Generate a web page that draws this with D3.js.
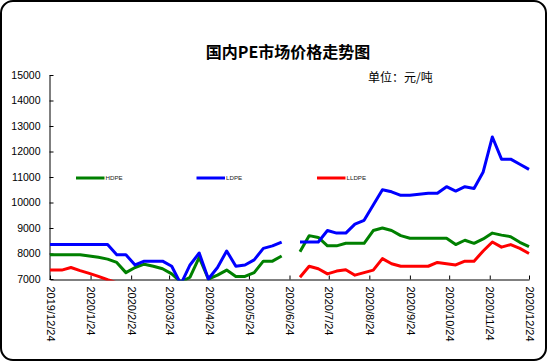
<!DOCTYPE html>
<html><head><meta charset="utf-8">
<script src="https://cdn.jsdelivr.net/npm/d3@7"></script>
<style>body{margin:0;background:#fff}</style>
</head><body><svg id="c" width="550" height="364"></svg>
<script>
const dates = ["2019-12-24","2020-01-02","2020-01-09","2020-01-16","2020-01-23","2020-01-30","2020-02-06","2020-02-13","2020-02-20","2020-02-27","2020-03-05","2020-03-12","2020-03-19","2020-03-26","2020-04-02","2020-04-09","2020-04-16","2020-04-23","2020-04-30","2020-05-07","2020-05-14","2020-05-21","2020-05-28","2020-06-04","2020-06-11","2020-06-18","2020-06-25","2020-07-02","2020-07-09","2020-07-16","2020-07-23","2020-07-30","2020-08-06","2020-08-13","2020-08-20","2020-08-27","2020-09-03","2020-09-10","2020-09-17","2020-09-24","2020-10-01","2020-10-08","2020-10-15","2020-10-22","2020-10-29","2020-11-05","2020-11-12","2020-11-19","2020-11-26","2020-12-03","2020-12-10","2020-12-17","2020-12-24"];
const hdpe = [7950,7950,7950,7950,7900,7850,7780,7650,7250,7450,7580,7500,7400,7200,6880,7070,7850,7000,7150,7350,7100,7100,7250,7700,7700,7900,null,8070,8700,8630,8300,8300,8400,8400,8400,8900,9000,8900,8700,8600,8600,8600,8600,8600,8350,8520,8400,8570,8800,8720,8660,8440,8270];
const ldpe = [8350,8350,8350,8350,8350,8350,8350,7950,7950,7550,7700,7700,7700,7500,6800,7550,8020,7000,7450,8100,7500,7550,7750,8200,8300,8450,null,8450,8450,8450,8900,8800,8800,9150,9300,9900,10500,10420,10280,10280,10320,10360,10360,10620,10450,10620,10550,11200,12570,11700,11700,11500,11300];
const lldpe = [7350,7350,7450,7330,7220,7100,6970,6850,6800,6750,6700,6600,6500,6450,6300,6350,6600,6500,6600,6700,6650,6650,6700,6750,6800,6850,null,7070,7500,7400,7200,7310,7360,7150,7250,7350,7800,7600,7500,7500,7500,7500,7650,7600,7550,7700,7700,8100,8450,8250,8350,8200,8000];
const tickLabels = ["2019/12/24","2020/1/24","2020/2/24","2020/3/24","2020/4/24","2020/5/24","2020/6/24","2020/7/24","2020/8/24","2020/9/24","2020/10/24","2020/11/24","2020/12/24"];
const yTicks = [7000,8000,9000,10000,11000,12000,13000,14000,15000];
const seriesNames = ["HDPE","LDPE","LLDPE"];
const seriesColors = ["#008000","#0000FF","#FF0000"];
const seriesData = [hdpe, ldpe, lldpe];

const svg = d3.select("#c");
svg.append("rect").attr("x",1).attr("y",1).attr("width",545).attr("height",359).attr("rx",12)
  .attr("fill","#fff").attr("stroke","#000").attr("stroke-width",2);

const parse = d3.timeParse("%Y-%m-%d");
const parseT = d3.timeParse("%Y/%m/%d");
const tickDates = tickLabels.map(parseT);
const x = d3.scaleTime().domain([tickDates[0], tickDates[tickDates.length-1]]).range([50,529]);
const y = d3.scaleLinear().domain([7000,15000]).range([279,75]);

svg.append("text").attr("x",288).attr("y",57.5).attr("text-anchor","middle")
  .attr("font-family","'Noto Sans CJK SC'").attr("font-weight","bold").attr("font-size",16)
  .text("国内PE市场价格走势图");
svg.append("text").attr("x",368).attr("y",82).attr("font-family","'Noto Sans CJK SC'")
  .attr("font-size",12).text("单位：元/吨");

// axes
const yAxis = svg.append("g").attr("transform","translate(49.5,0)")
  .call(d3.axisLeft(y).tickValues(yTicks).tickSize(-4).tickSizeOuter(0).tickPadding(9).tickFormat(d3.format("d")));
yAxis.selectAll("text").attr("font-family","'Liberation Sans'").attr("font-size",10.5).attr("fill","#000");
const xAxis = svg.append("g").attr("transform","translate(0,279.5)")
  .call(d3.axisBottom(x).tickValues(tickDates).tickSize(-4).tickSizeOuter(0).tickFormat((d,i)=>tickLabels[i]));
xAxis.selectAll("text").attr("font-family","'Liberation Sans'").attr("font-size",11).attr("fill","#000")
  .attr("transform","rotate(90)").attr("x",7).attr("y",0).attr("dy","0.35em").style("text-anchor","start");
svg.selectAll(".domain, .tick line").attr("stroke","#000");

// clip
svg.append("clipPath").attr("id","pc").append("rect").attr("x",47).attr("y",70).attr("width",486).attr("height",210.5);
const line = d3.line().defined(d=>d[1]!=null).x(d=>x(parse(d[0]))).y(d=>y(d[1]));
const g = svg.append("g").attr("clip-path","url(#pc)");
seriesData.forEach((s,i)=>{
  g.append("path").datum(dates.map((d,j)=>[d,s[j]])).attr("d",line)
    .attr("fill","none").attr("stroke",seriesColors[i]).attr("stroke-width",3)
    .attr("stroke-linejoin","round");
});

// legend
const lg = svg.append("g");
seriesNames.forEach((n,i)=>{
  const lx = 76 + i*120.5;
  lg.append("line").attr("x1",lx).attr("x2",lx+28.5).attr("y1",178).attr("y2",178)
    .attr("stroke",seriesColors[i]).attr("stroke-width",3);
  lg.append("text").attr("x",lx+29.5).attr("y",180.2).attr("font-family","'Liberation Sans'")
    .attr("font-size",6.2).attr("fill","#222").text(n);
});
</script></body></html>
